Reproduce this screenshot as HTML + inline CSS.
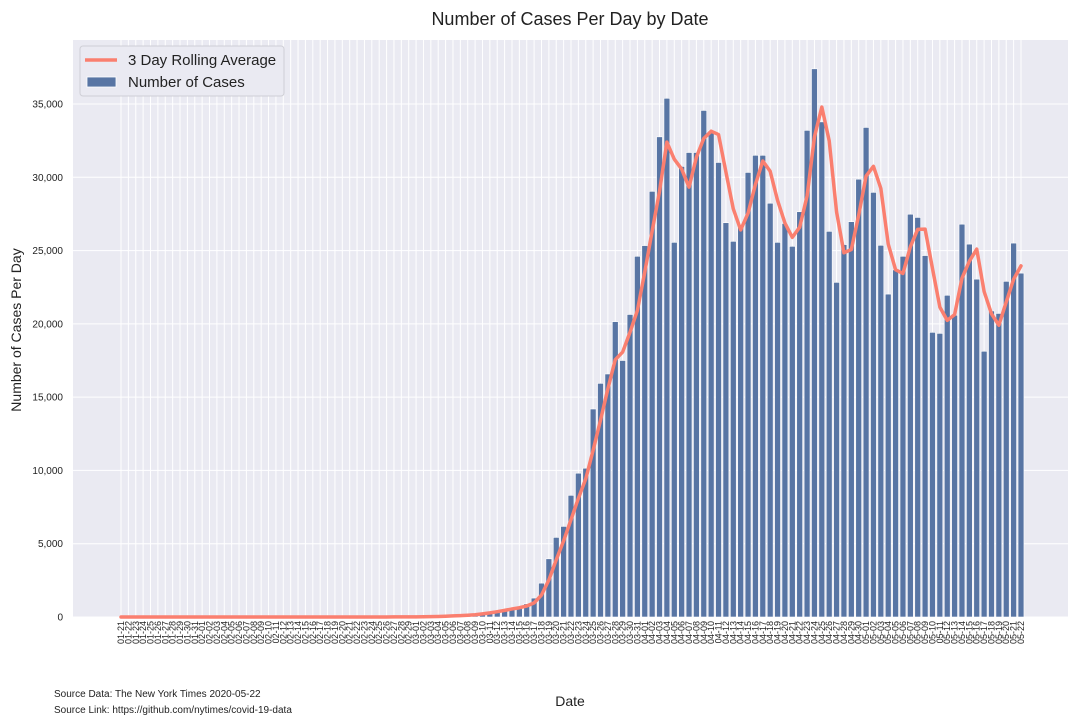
<!DOCTYPE html>
<html><head><meta charset="utf-8"><style>
body{margin:0;background:#fff;}
svg{display:block;font-family:"Liberation Sans",Arial,sans-serif;}
</style></head><body>
<svg id="chart" width="1080" height="720" viewBox="0 0 1080 720" xmlns="http://www.w3.org/2000/svg">
<rect width="1080" height="720" fill="#fff"/>
<text x="570" y="25" font-size="18" text-anchor="middle" fill="#222">Number of Cases Per Day by Date</text>
<rect x="73" y="40" width="995" height="577" fill="#EAEAF2"/>
<g id="grid"></g>
<g id="bars"></g>
<g id="line"></g>
<g id="xticks"></g>
<g id="yticks"></g>
<text transform="translate(21,330) rotate(-90)" font-size="14" text-anchor="middle" fill="#222">Number of Cases Per Day</text>
<text x="570" y="706" font-size="14" text-anchor="middle" fill="#222">Date</text>
<text x="54" y="697" font-size="10" fill="#222">Source Data: The New York Times 2020-05-22</text>
<text x="54" y="713" font-size="10" fill="#222">Source Link: https://github.com/nytimes/covid-19-data</text>
<g>
<rect x="80" y="46" width="204" height="50" rx="3" fill="#EAEAF2" stroke="#cfcfd6" stroke-width="1"/>
<line x1="85" y1="60" x2="117" y2="60" stroke="#FA7F6F" stroke-width="3.5"/>
<text x="128" y="65" font-size="15" fill="#222">3 Day Rolling Average</text>
<rect x="87" y="77" width="29" height="10" fill="#5875A4" stroke="#fff" stroke-width="0.8"/>
<text x="128" y="87" font-size="15" fill="#222">Number of Cases</text>
</g>
</svg>
<script>
const months = [["01",21,31],["02",1,29],["03",1,31],["04",1,30],["05",1,22]];
const dates = [];
months.forEach(m=>{for(let d=m[1];d<=m[2];d++)dates.push(m[0]+"-"+String(d).padStart(2,"0"));});
const earlyCases = [1,0,0,1,1,0,0,0,0,1,1,0,1,0,0,0,0,0,0,1,0,0,0,0,0,0,0,0,0,0,0,0,0,0,3,1,5,8,6,10];
const marchCases = [20,30,30,50,70,100,120,150,200,290,350,450,550,650,700,900,1290,2310,3970,5430,6180,8300,9810,10150,14190,15940,16580,20150,17500,20640,24610];
const aprilCases = [25340,29040,32760,35390,25560,30740,31690,31690,34560,33180,31010,26900,25630,26700,30330,31500,31500,28230,25560,26850,25290,27650,33200,37400,33780,26310,22830,25410,26970,29870];
const mayCases = [33400,28970,25360,22030,23680,24610,27480,27260,24660,19420,19350,21950,20590,26800,25440,23050,18130,20880,20710,22900,25510,23460];
const cases = earlyCases.concat(marchCases, aprilCases, mayCases);
const yTicks = [0,5000,10000,15000,20000,25000,30000,35000];
const rolling = cases.map((v,i)=>{const s=cases.slice(Math.max(0,i-2),i+1);return s.reduce((a,b)=>a+b,0)/s.length;});

const NS="http://www.w3.org/2000/svg";
const x = i => 121 + i*7.377;
const y = v => 617 - v*513/35000;
function mk(tag,attrs,parent){const e=document.createElementNS(NS,tag);for(const k in attrs)e.setAttribute(k,attrs[k]);document.getElementById(parent).appendChild(e);return e;}

yTicks.forEach(t=>{
  const g=mk("line",{x1:73,x2:1068,y1:y(t),y2:y(t),stroke:"#fff","stroke-width":1},"grid");
  
  
  const l=mk("text",{x:63,y:y(t)+3.5,"font-size":10,"text-anchor":"end",fill:"#222"},"yticks");
  l.textContent=t.toLocaleString("en-US");
  
  
});
dates.forEach((d,i)=>{
  const g=mk("line",{x1:x(i),x2:x(i),y1:40,y2:617,stroke:"#fff","stroke-width":1},"grid");
  
  
  const t=mk("text",{transform:`translate(${x(i)+3},621) rotate(-90)`,"font-size":9,"text-anchor":"end",fill:"#222"},"xticks");
  t.textContent=d;
  
  
});
cases.forEach((v,i)=>{
  const b=mk("rect",{x:x(i)-2.95,y:y(v),width:5.9,height:Math.max(0,617-y(v)),fill:"#5875A4",stroke:"#fff","stroke-width":0.6},"bars");
  
  
});
const p=mk("polyline",{points:rolling.map((v,i)=>x(i).toFixed(2)+","+y(v).toFixed(2)).join(" "),fill:"none",stroke:"#FA7F6F","stroke-width":3.5,"stroke-linejoin":"round","stroke-linecap":"round"},"line");


</script>
</body></html>
